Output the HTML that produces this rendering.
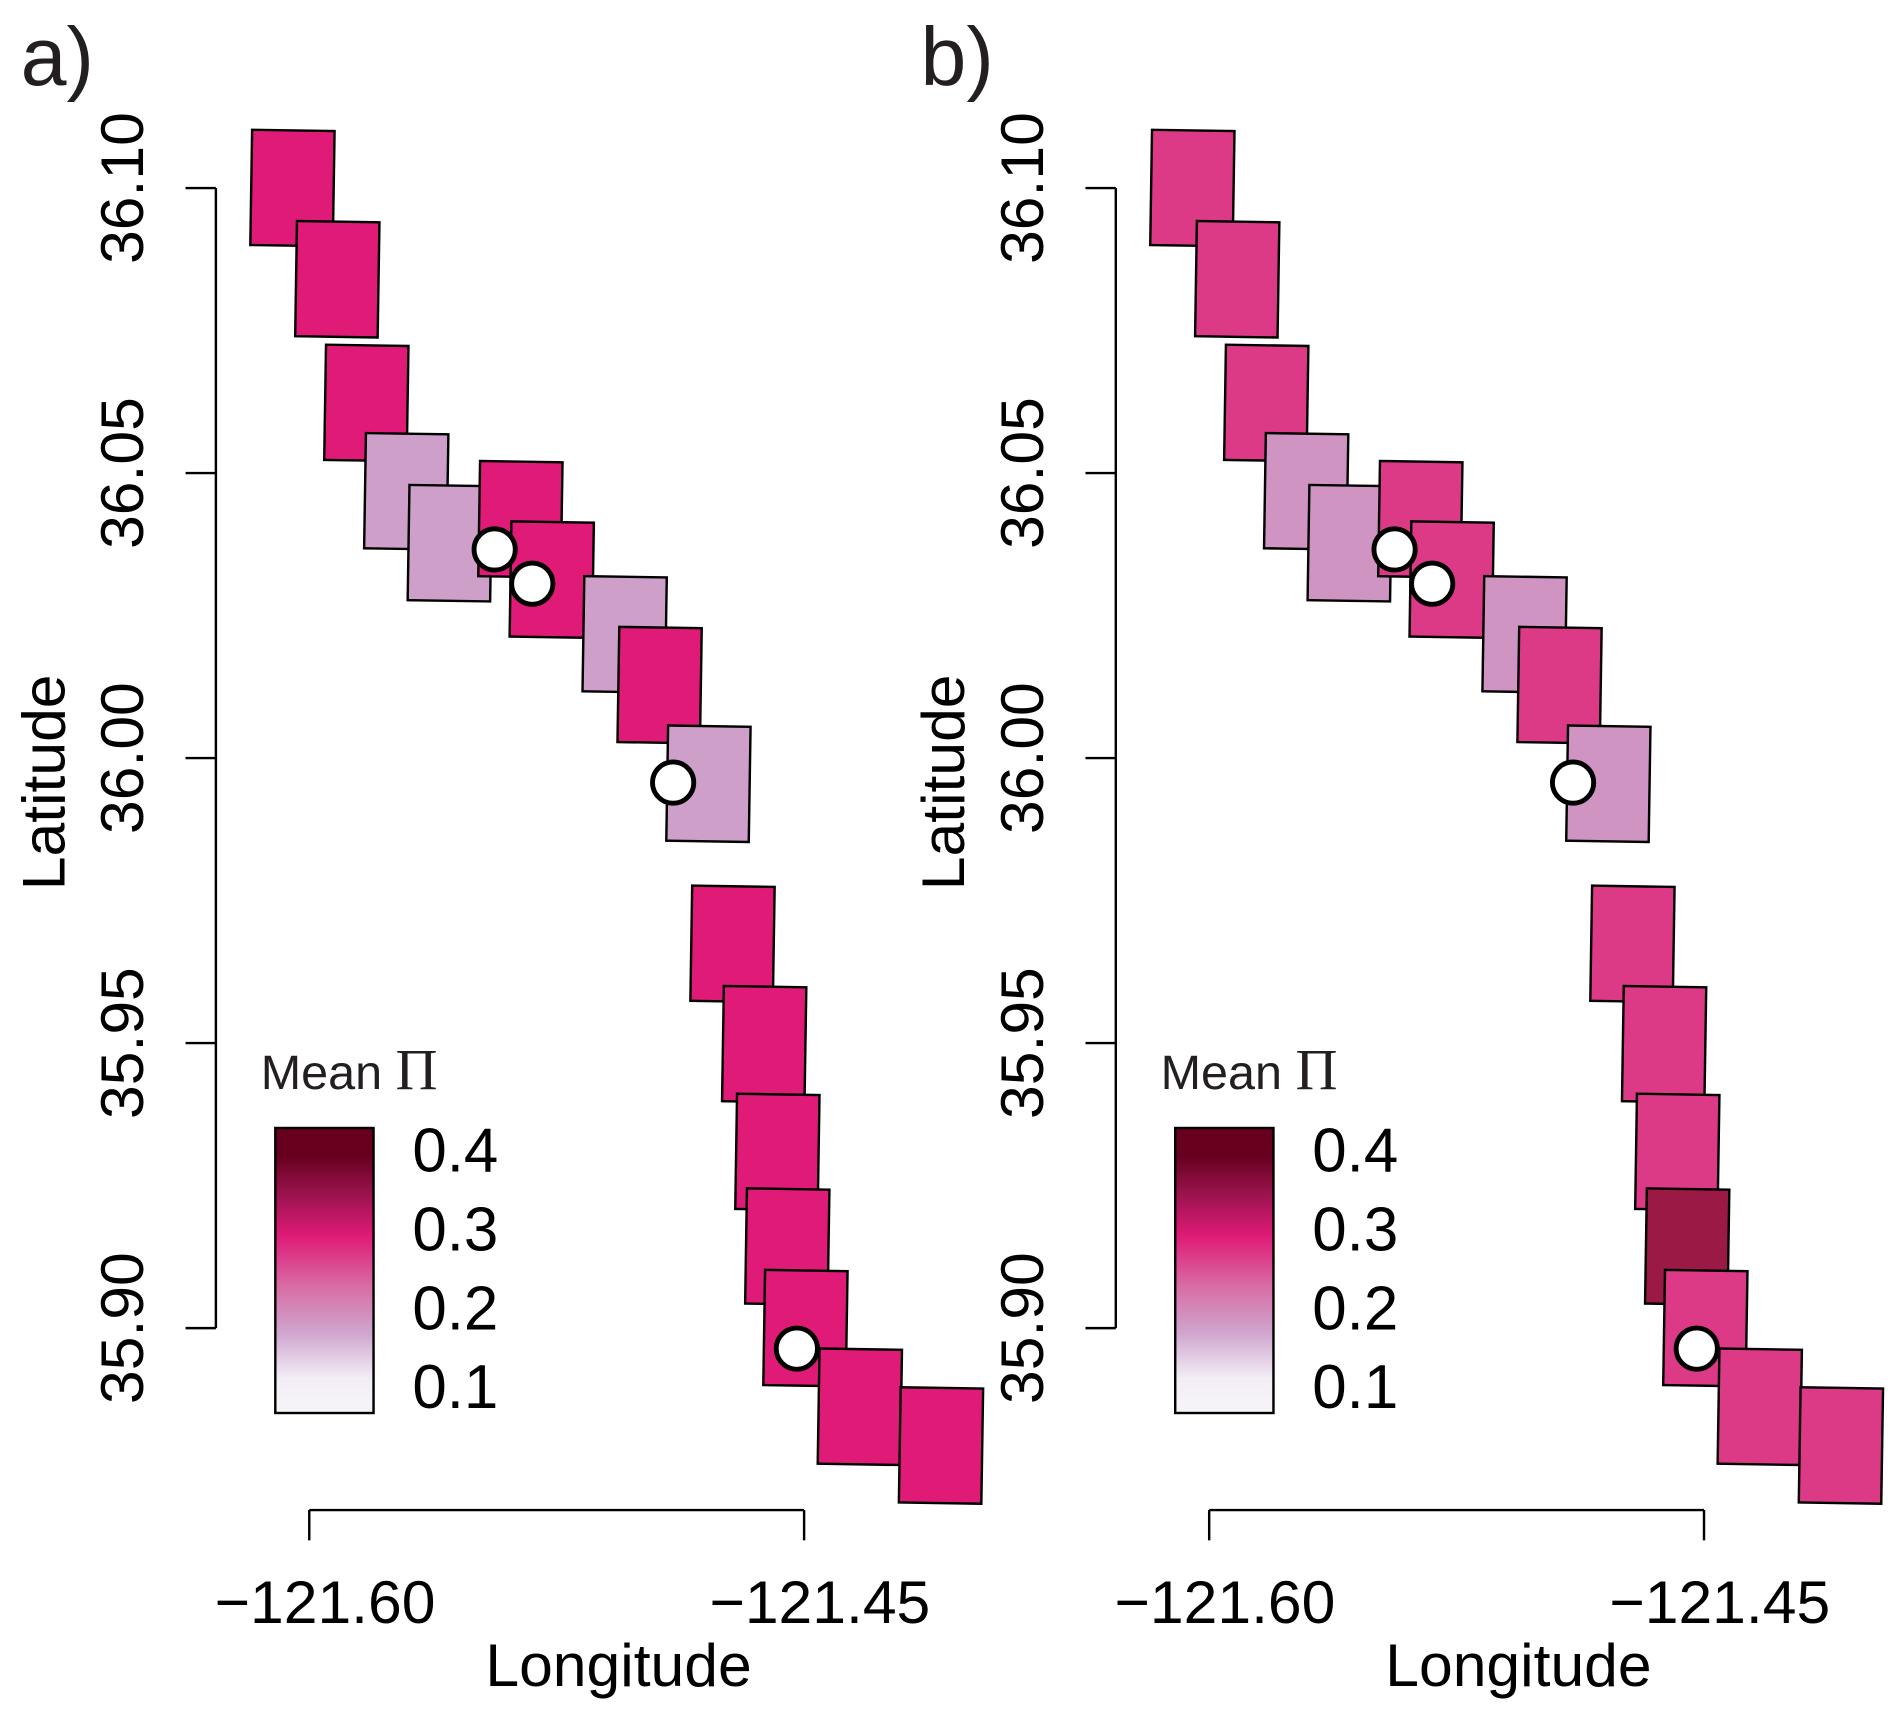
<!DOCTYPE html>
<html><head><meta charset="utf-8">
<style>
html,body{margin:0;padding:0;background:#fff;}
svg{display:block;font-family:"Liberation Sans",sans-serif;}
</style></head>
<body>
<svg id="chart" width="1892" height="1709" viewBox="0 0 1560 1409" xmlns="http://www.w3.org/2000/svg">
<defs>
<linearGradient id="grad" x1="0" y1="1" x2="0" y2="0">
<stop offset="0%" stop-color="#f7f4f9"/>
<stop offset="12%" stop-color="#f3eef6"/>
<stop offset="28%" stop-color="#cfa6cf"/>
<stop offset="45%" stop-color="#d86aa3"/>
<stop offset="62%" stop-color="#df1b77"/>
<stop offset="78%" stop-color="#95124a"/>
<stop offset="90%" stop-color="#67001f"/>
<stop offset="100%" stop-color="#67001f"/>
</linearGradient>
</defs>
<g id="panels"></g>
</svg>
<script>
const boxLon = [-121.6051,-121.5915,-121.5827,-121.5706,-121.5574,-121.5360,-121.5265,-121.5044,-121.4938,-121.4790,-121.4717,-121.4621,-121.4581,-121.4551,-121.4496,-121.4331,-121.4085];
const boxLat = [36.1000,36.0840,36.0623,36.0468,36.0377,36.0419,36.0313,36.0217,36.0128,35.9955,35.9674,35.9498,35.9309,35.9143,35.9000,35.8862,35.8794];
const valuesA = [0.29,0.29,0.29,0.20,0.20,0.29,0.29,0.20,0.29,0.20,0.29,0.29,0.29,0.29,0.29,0.29,0.29];
const valuesB = [0.275,0.275,0.275,0.21,0.21,0.275,0.275,0.21,0.275,0.21,0.275,0.275,0.275,0.36,0.275,0.275,0.275];
const siteLon = [-121.5438,-121.5324,-121.4897,-121.4522];
const siteLat = [36.0366,36.0306,35.9957,35.8964];
const latTicks = [36.10,36.05,36.00,35.95,35.90];
const latTickLabels = ["36.10","36.05","36.00","35.95","35.90"];
const lonTicks = [-121.60,-121.45];
const lonTickLabels = ["\u2212121.60","\u2212121.45"];
const legendTicks = [0.4,0.3,0.2,0.1];
const legendTickLabels = ["0.4","0.3","0.2","0.1"];

const NS="http://www.w3.org/2000/svg";
const root=document.getElementById('panels');
function mk(tag,attrs,parent){const e=document.createElementNS(NS,tag);for(const k in attrs)e.setAttribute(k,attrs[k]);parent.appendChild(e);return e;}

const cstops=[[0.10,[247,244,249]],[0.15,[240,232,243]],[0.20,[205,159,201]],[0.25,[216,106,163]],[0.29,[223,27,119]],[0.33,[170,25,80]],[0.36,[154,26,69]],[0.40,[103,0,31]]];
function color(v){
  if(v<=cstops[0][0])return 'rgb('+cstops[0][1]+')';
  for(let i=1;i<cstops.length;i++){if(v<=cstops[i][0]){const a=cstops[i-1],b=cstops[i];const t=(v-a[0])/(b[0]-a[0]);return 'rgb('+a[1].map((c,j)=>Math.round(c+(b[1][j]-c)*t)).join(',')+')';}}
  return 'rgb('+cstops[cstops.length-1][1]+')';
}

function drawPanel(off,vals,label,pname){
  const g=mk('g',{},root);
  
  
  const xs=lon=>off+255+(lon+121.60)*2720;
  const ys=lat=>155+(36.10-lat)*4700;
  const t=mk('text',{x:off+17,y:70,'font-size':68,fill:'#231f20'},g);t.textContent=label;
  
  const ya=mk('g',{},g);
  mk('line',{x1:off+178,y1:ys(latTicks[0]),x2:off+178,y2:ys(latTicks[latTicks.length-1]),stroke:'#000','stroke-width':2},ya);
  latTicks.forEach((v,i)=>{
    mk('line',{x1:off+153,y1:ys(v),x2:off+178,y2:ys(v),stroke:'#000','stroke-width':2},ya);
    const tx=mk('text',{x:0,y:0,'font-size':50,'text-anchor':'middle',transform:`translate(${off+118},${ys(v)}) rotate(-90)`},ya);
    tx.textContent=latTickLabels[i];
    
  });
  const yt=mk('text',{x:0,y:0,'font-size':50,'text-anchor':'middle',transform:`translate(${off+53},${645}) rotate(-90)`},g);
  yt.textContent='Latitude';
  const xa=mk('g',{},g);
  mk('line',{x1:xs(lonTicks[0]),y1:1245,x2:xs(lonTicks[1]),y2:1245,stroke:'#000','stroke-width':2},xa);
  lonTicks.forEach((v,i)=>{
    mk('line',{x1:xs(v),y1:1245,x2:xs(v),y2:1270,stroke:'#000','stroke-width':2},xa);
    const tx=mk('text',{x:xs(v)+13,y:1338,'font-size':50,'text-anchor':'middle'},xa);
    tx.textContent=lonTickLabels[i];
    
  });
  const xt=mk('text',{x:off+510,y:1390,'font-size':50,'text-anchor':'middle'},g);
  xt.textContent='Longitude';
  boxLon.forEach((lon,i)=>{
    const cx=xs(lon),cy=ys(boxLat[i]);
    const r=mk('rect',{x:cx-34,y:cy-47.5,width:68,height:95,fill:color(vals[i]),stroke:'#000','stroke-width':2,transform:`rotate(0.9 ${cx} ${cy})`},g);
    
    
  });
  siteLon.forEach((lon,i)=>{
    const c=mk('circle',{cx:xs(lon),cy:ys(siteLat[i]),r:17,fill:'#fff',stroke:'#000','stroke-width':4},g);
    
    
  });
  const lg=mk('g',{},g);
  const lt=mk('text',{x:off+215,y:898,'font-size':40,fill:'#231f20'},lg);
  lt.innerHTML='Mean <tspan font-family="Liberation Serif, serif" font-size="48">\u03A0</tspan>';
  
  const ly=v=>1143-(v-0.1)*650;
  const top=930,bot=1165;
  const gb=mk('rect',{x:off+227,y:top,width:81,height:bot-top,fill:'url(#grad)',stroke:'#000','stroke-width':2},lg);
  
  legendTicks.forEach((v,i)=>{
    const tx=mk('text',{x:off+340,y:ly(v)+18,'font-size':51},lg);
    tx.textContent=legendTickLabels[i];
    
  });
}
drawPanel(0,valuesA,'a)','panel-a');
drawPanel(742,valuesB,'b)','panel-b');
</script>
</body></html>
